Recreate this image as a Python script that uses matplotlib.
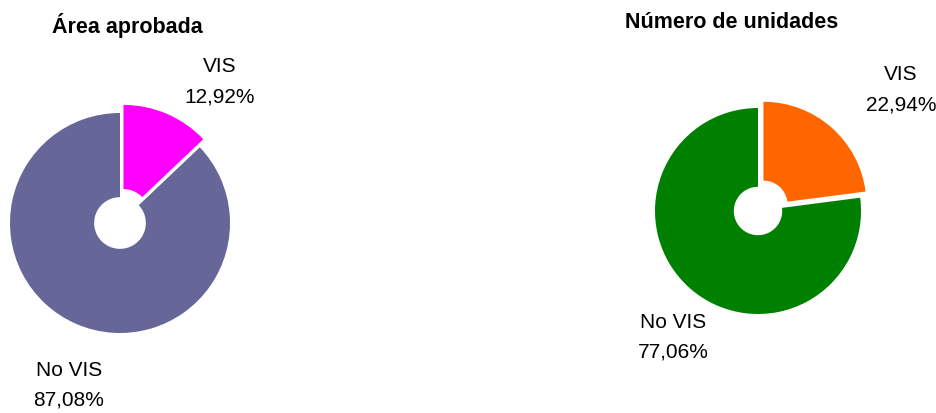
import matplotlib.pyplot as plt

plt.rcParams['font.family'] = ['Liberation Sans', 'DejaVu Sans']

# datos
categorias = ['VIS', 'No VIS']
area_aprobada = [12.92, 87.08]
numero_unidades = [22.94, 77.06]
colores_area = ['#FF00FF', '#666699']
colores_unidades = ['#FF6600', '#008000']
titulos = ['Área aprobada', 'Número de unidades']


def fmt(v):
    return f'{v:.2f}%'.replace('.', ',')


def donut(ax, values, colors, center, radius, title, title_pos, label_pos):
    # explode va en unidades de datos cuando se usa center/radius
    ax.pie(values, colors=colors, center=center, radius=radius,
           startangle=90, counterclock=False, explode=[0.08 * radius, 0],
           wedgeprops=dict(width=radius * 0.765, linewidth=0))
    ax.text(title_pos[0], title_pos[1], title, ha='center', va='center',
            fontsize=15.5, fontweight='bold')
    for cat, v, (x, y) in zip(categorias, values, label_pos):
        ax.text(x, y, cat, ha='center', va='center', fontsize=15)
        ax.text(x, y - 30, fmt(v), ha='center', va='center', fontsize=15)


fig = plt.figure(figsize=(9.36, 4.13), dpi=100)
ax = fig.add_axes([0, 0, 1, 1])
H = 413

donut(ax, area_aprobada, colores_area, (120, H - 223), 110, titulos[0],
      (127, H - 25), [(220, H - 67), (69, H - 370)])
donut(ax, numero_unidades, colores_unidades, (758, H - 211), 103, titulos[1],
      (732, H - 22), [(901, H - 75), (673, H - 322)])

ax.set_xlim(0, 936)
ax.set_ylim(0, H)
ax.set_aspect('auto')
ax.axis('off')
fig.savefig('out.png', dpi=100)
